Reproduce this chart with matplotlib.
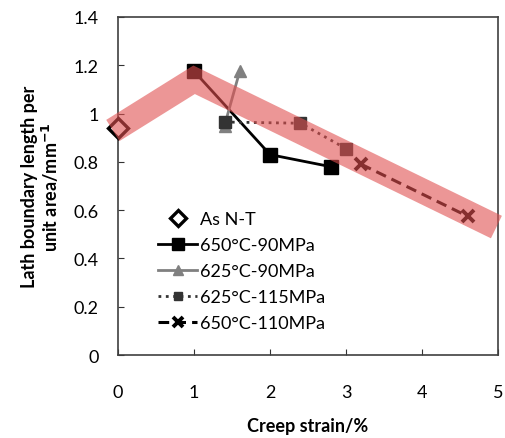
import matplotlib
matplotlib.use("Agg")
import matplotlib.pyplot as plt

plt.rcParams['font.family'] = ['Lato', 'DejaVu Sans']

# data
nt_x = [0]
nt_y = [0.94]

s650_90_x = [1, 2, 2.8]
s650_90_y = [1.175, 0.83, 0.78]

s625_90_x = [1.4, 1.6]
s625_90_y = [0.95, 1.175]

s625_115_x = [1.4, 2.4, 3.0]
s625_115_y = [0.965, 0.96, 0.855]

s650_110_x = [3.2, 4.6]
s650_110_y = [0.79, 0.575]

# trend band
band_x = [-0.07, 1, 4.98]
band_y = [0.93, 1.14, 0.53]

fig = plt.figure(figsize=(5.05, 4.39), dpi=100)
ax = fig.add_axes([0.234, 0.189, 0.752, 0.770])

ax.plot(nt_x, nt_y, linestyle='none', marker='D', markersize=10,
        markerfacecolor='white', markeredgecolor='black', markeredgewidth=2.4,
        label='As N-T', zorder=3, clip_on=False)
ax.plot(s650_90_x, s650_90_y, color='black', lw=2, marker='s', markersize=10,
        label='650°C-90MPa', zorder=3)
ax.plot(s625_90_x, s625_90_y, color='#808080', lw=2, marker='^', markersize=9,
        label='625°C-90MPa', zorder=3)
ax.plot(s625_115_x, s625_115_y, color='#333333', lw=2, linestyle=':', marker='s',
        markersize=8, label='625°C-115MPa', zorder=3)
ax.plot(s650_110_x, s650_110_y, color='black', lw=2.2, linestyle=(0, (3.5, 2)),
        marker='x', markersize=9, markeredgewidth=2.8, label='650°C-110MPa', zorder=3)

ax.plot(band_x, band_y, color='#e05050', alpha=0.6, lw=18, solid_capstyle='butt',
        solid_joinstyle='miter', zorder=4, clip_on=False)

ax.set_xlim(0, 5)
ax.set_ylim(0, 1.4)
ax.set_xticks([0, 1, 2, 3, 4, 5])
ax.set_yticks([0, 0.2, 0.4, 0.6, 0.8, 1.0, 1.2, 1.4])
ax.set_yticklabels(['0', '0.2', '0.4', '0.6', '0.8', '1', '1.2', '1.4'])
ax.tick_params(direction='in', labelsize=13, length=4, color='#333333')
ax.tick_params(axis='x', pad=21)
ax.tick_params(axis='y', pad=14)
for sp in ax.spines.values():
    sp.set_color('#404040')
    sp.set_linewidth(1.2)

ax.set_xlabel('Creep strain/%', fontsize=13, fontweight='bold', labelpad=12)
ax.set_ylabel('Lath boundary length per\nunit area/mm$^{\\mathbf{-1}}$', fontsize=13,
              fontweight='bold', labelpad=9, linespacing=1.1)

ax.legend(loc='lower left', bbox_to_anchor=(0.085, 0.05), frameon=False, fontsize=13,
          handlelength=2.2, handletextpad=0.15, labelspacing=0.55, borderaxespad=0,
          markerscale=0.8)

fig.savefig('out.png', dpi=100)
